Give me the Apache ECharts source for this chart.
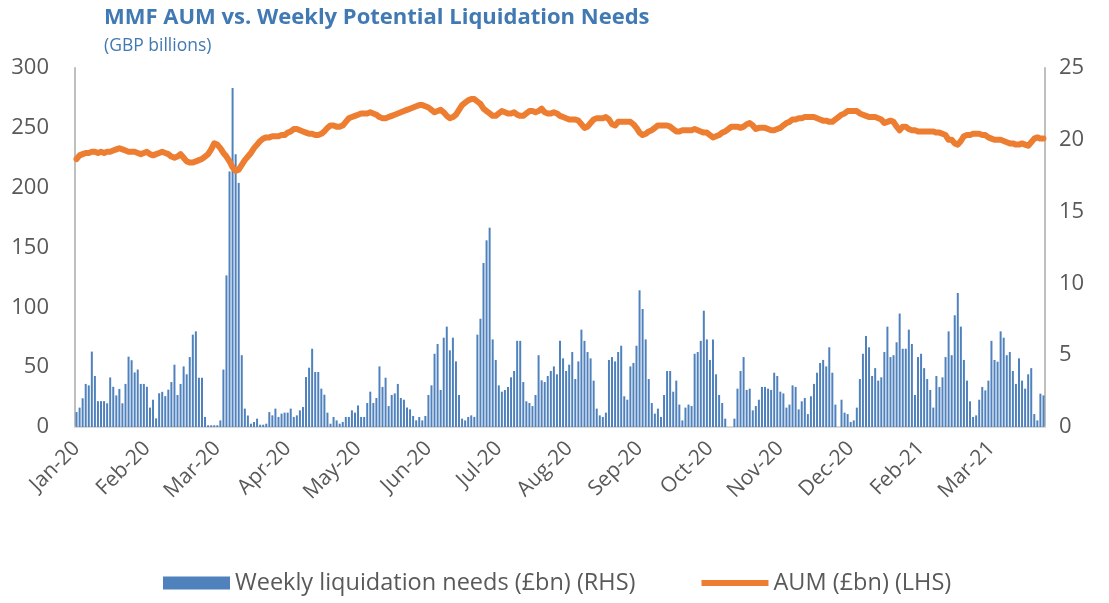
<!DOCTYPE html>
<html>
<head>
<meta charset="utf-8">
<script src="https://cdn.jsdelivr.net/npm/echarts/dist/echarts.min.js"></script>
<style>
html,body{margin:0;padding:0;background:#fff;}
#chart{width:1109px;height:603px;}
</style>
</head>
<body>
<div id="chart"></div>
<script>
// Tick labels shown every 23 business days
const tickLabels = ['Jan-20','Feb-20','Mar-20','Apr-20','May-20','Jun-20','Jul-20','Aug-20','Sep-20','Oct-20','Nov-20','Dec-20','Feb-21','Mar-21'];

// Weekly liquidation needs (£bn) (RHS), one value per business day
const liqJan20 = [1.04,1.35,2.0,3.0,2.9,5.25,3.55,1.8,1.8,1.8,1.65,3.45,2.8,2.2,2.65,1.65,3.0,4.9,4.65,3.8,4.0,3.0,3.0,2.8,1.35,1.9,0.6,2.35,2.45,2.15,2.6];
const liqFebMar20 = [3.13,4.34,2.23,3.0,4.22,3.67,4.87,6.43,6.66,3.43,3.43,0.7,0.12,0.12,0.12,0.12,0.46,4.0,10.56,17.8,23.6,19.0,17.0,5.0,1.28,0.8,0.23,0.35,0.58,0.16,0.16,0.23];
const liqAprMay20 = [1.04,0.81,1.28,0.7,0.93,1.0,1.0,1.28,0.7,0.81,1.16,1.39,3.48,4.13,5.45,3.83,3.83,2.67,2.25,1.0,0.23,0.7,0.46,0.23,0.35,0.7,0.7,1.16,1.0,1.5,0.7,0.7];
const liqMayJun20 = [1.67,2.46,1.67,2.02,4.22,2.79,3.43,1.46,2.23,2.34,3.0,2.02,1.9,1.35,1.23,0.77,0.46,0.7,0.46,0.77,2.23,2.9,5.1,5.78,2.58,6.22,6.99,5.34,6.22,4.57,2.23,0.58];
const liqJulAug20 = [0.46,0.7,0.81,0.7,6.43,7.54,11.42,13.0,13.88,6.1,4.67,2.9,2.46,2.58,2.79,3.46,3.9,6.0,6.0,3.13,1.79,1.67,1.46,2.23,5.0,3.25,3.13,3.55,3.9,4.22,3.67,6.0];
const liqAugSep20 = [4.78,3.9,4.34,5.22,3.34,4.57,6.78,6.0,5.22,4.78,3.23,1.28,0.81,0.7,1.0,4.67,4.87,4.57,5.22,5.66,2.14,1.9,4.22,4.46,5.66,9.52,8.22,6.1,3.34,1.67,0.93,1.28];
const liqOctNov20 = [0.7,2.23,3.9,3.9,2.46,3.23,1.56,0.46,1.35,1.56,1.46,5.1,5.22,6.0,8.1,6.1,4.67,6.1,3.67,2.23,1.67,0.58,0,0,0.58,2.67,3.9,4.87,2.58,2.67,1.16,1.46];
const liqNovDec20 = [1.9,2.79,2.79,2.67,2.58,3.78,3.55,2.46,2.34,1.35,1.56,2.9,2.79,1.23,1.79,2.02,0.9,2.14,3.0,3.78,4.46,4.67,4.22,5.55,3.78,1.56,0,1.9,1.0,0.9,0.35,0.46];
const liqJanFeb21 = [1.35,3.34,5.1,6.34,5.55,3.55,4.1,3.23,3.46,5.22,6.99,4.87,5.0,5.9,7.9,5.45,5.45,6.78,5.78,2.23,4.87,5.1,4.1,3.34,2.58,1.35,3.55,2.79,3.46,4.87,6.66,5.0];
const liqFebMar21 = [7.78,9.33,6.99,4.67,3.23,1.79,0.7,0.81,1.9,2.79,2.55,3.23,6.0,4.67,4.55,6.66,6.22,5.0,5.22,3.9,3.0,4.78,3.23,2.67,3.67,4.1,0.9,0.46,2.32,2.2];

// AUM (£bn) (LHS), one value per business day
const aumJan20 = [224,227,228,229,229,230,230,229,230,229,230,230,231,232,233,232,231,230,230,230,229,228,229,230,228,227,228,229,230,229,228];
const aumFebMar20 = [226,225,226,228,225,222,221,221,222,223,224,226,228,232,237,236,233,229,226,222,217,214,215,219,223,226,229,233,236,239,241,242];
const aumAprMay20 = [242,243,243,243,244,244,246,247,249,249,248,247,246,245,245,244,244,245,247,250,252,252,251,251,252,255,258,259,260,261,262,262];
const aumMayJun20 = [262,263,262,261,259,258,258,259,260,261,262,263,264,265,266,267,268,269,269,268,267,265,263,264,265,263,260,258,259,261,265,269];
const aumJulAug20 = [271,273,274,274,272,270,266,264,262,260,260,262,264,263,262,262,263,261,260,260,262,264,264,263,264,266,263,262,262,263,262,260];
const aumAugSep20 = [259,258,257,257,257,256,253,250,251,254,257,258,258,258,259,257,253,252,255,255,255,255,255,253,250,246,244,245,247,248,250,252];
const aumOctNov20 = [252,252,252,251,249,247,247,248,248,248,248,249,248,247,246,246,244,242,243,244,246,247,249,251,251,251,250,251,253,254,252,249];
const aumNovDec20 = [250,250,250,249,248,248,249,250,252,254,255,257,257,258,258,259,259,259,259,258,257,256,256,255,255,257,259,261,262,264,264,264];
const aumJanFeb21 = [264,262,261,260,259,259,259,258,257,254,255,256,255,251,248,251,251,249,248,248,247,247,247,247,247,247,246,246,245,244,240,240];
const aumFebMar21 = [237,236,239,243,244,244,245,245,245,244,244,242,241,240,240,240,239,238,237,237,236,236,237,236,235,238,241,242,241,241];

const liquidation = [].concat(liqJan20, liqFebMar20, liqAprMay20, liqMayJun20, liqJulAug20, liqAugSep20, liqOctNov20, liqNovDec20, liqJanFeb21, liqFebMar21);
const aum = [].concat(aumJan20, aumFebMar20, aumAprMay20, aumMayJun20, aumJulAug20, aumAugSep20, aumOctNov20, aumNovDec20, aumJanFeb21, aumFebMar21);
const categories = liquidation.map((_, i) => String(i));

const FONT = "'Open Sans', 'Noto Sans', sans-serif";
const GRAY = '#595959';
const AXIS = '#bfbfbf';

const chart = echarts.init(document.getElementById('chart'), null, {renderer: 'canvas'});
chart.setOption({
  animation: false,
  backgroundColor: '#ffffff',
  textStyle: {fontFamily: FONT},
  title: {
    text: 'MMF AUM vs. Weekly Potential Liquidation Needs',
    subtext: '(GBP billions)',
    left: 99,
    top: 2,
    itemGap: 8,
    textStyle: {color: '#4179b3', fontSize: 22, fontWeight: 'bold', fontFamily: FONT},
    subtextStyle: {color: '#4179b3', fontSize: 17.5, fontFamily: FONT}
  },
  grid: {left: 75, right: 64, top: 68, bottom: 176, containLabel: false},
  legend: {
    left: 158,
    top: 566,
    itemGap: 66,
    itemWidth: 67,
    itemHeight: 13,
    textStyle: {color: GRAY, fontSize: 23.5, fontFamily: FONT},
    data: [
      {name: 'Weekly liquidation needs (£bn) (RHS)', icon: 'rect'},
      {name: 'AUM (£bn) (LHS)', icon: 'path://M0,0 L100,0 L100,9 L0,9 Z'}
    ]
  },
  xAxis: {
    type: 'category',
    data: categories,
    boundaryGap: true,
    axisLine: {show: true, lineStyle: {color: '#d9d9d9', width: 2}},
    axisTick: {show: false},
    axisLabel: {
      interval: 22,
      rotate: 45,
      margin: 18,
      color: GRAY,
      fontSize: 21,
      fontFamily: FONT,
      formatter: function (v, idx) { const k = idx / 23; return Number.isInteger(k) && tickLabels[k] ? tickLabels[k] : ''; }
    },
    splitLine: {show: false}
  },
  yAxis: [
    {
      type: 'value', min: 0, max: 300, interval: 50, position: 'left',
      axisLine: {show: true, lineStyle: {color: AXIS, width: 2}},
      axisTick: {show: false},
      splitLine: {show: false},
      axisLabel: {color: GRAY, fontSize: 22, margin: 26, fontFamily: FONT}
    },
    {
      type: 'value', min: 0, max: 25, interval: 5, position: 'right',
      axisLine: {show: true, lineStyle: {color: AXIS, width: 2}},
      axisTick: {show: false},
      splitLine: {show: false},
      axisLabel: {color: GRAY, fontSize: 22, margin: 14, fontFamily: FONT}
    }
  ],
  series: [
    {
      name: 'Weekly liquidation needs (£bn) (RHS)',
      type: 'bar',
      yAxisIndex: 1,
      data: liquidation,
      barCategoryGap: '35%',
      itemStyle: {color: '#4f81bd'},
      z: 2
    },
    {
      name: 'AUM (£bn) (LHS)',
      type: 'line',
      yAxisIndex: 0,
      data: aum,
      showSymbol: false,
      symbol: 'none',
      smooth: false,
      lineStyle: {color: '#ed7d31', width: 6, join: 'round', cap: 'round'},
      itemStyle: {color: '#ed7d31'},
      z: 3
    }
  ]
});
</script>
</body>
</html>
